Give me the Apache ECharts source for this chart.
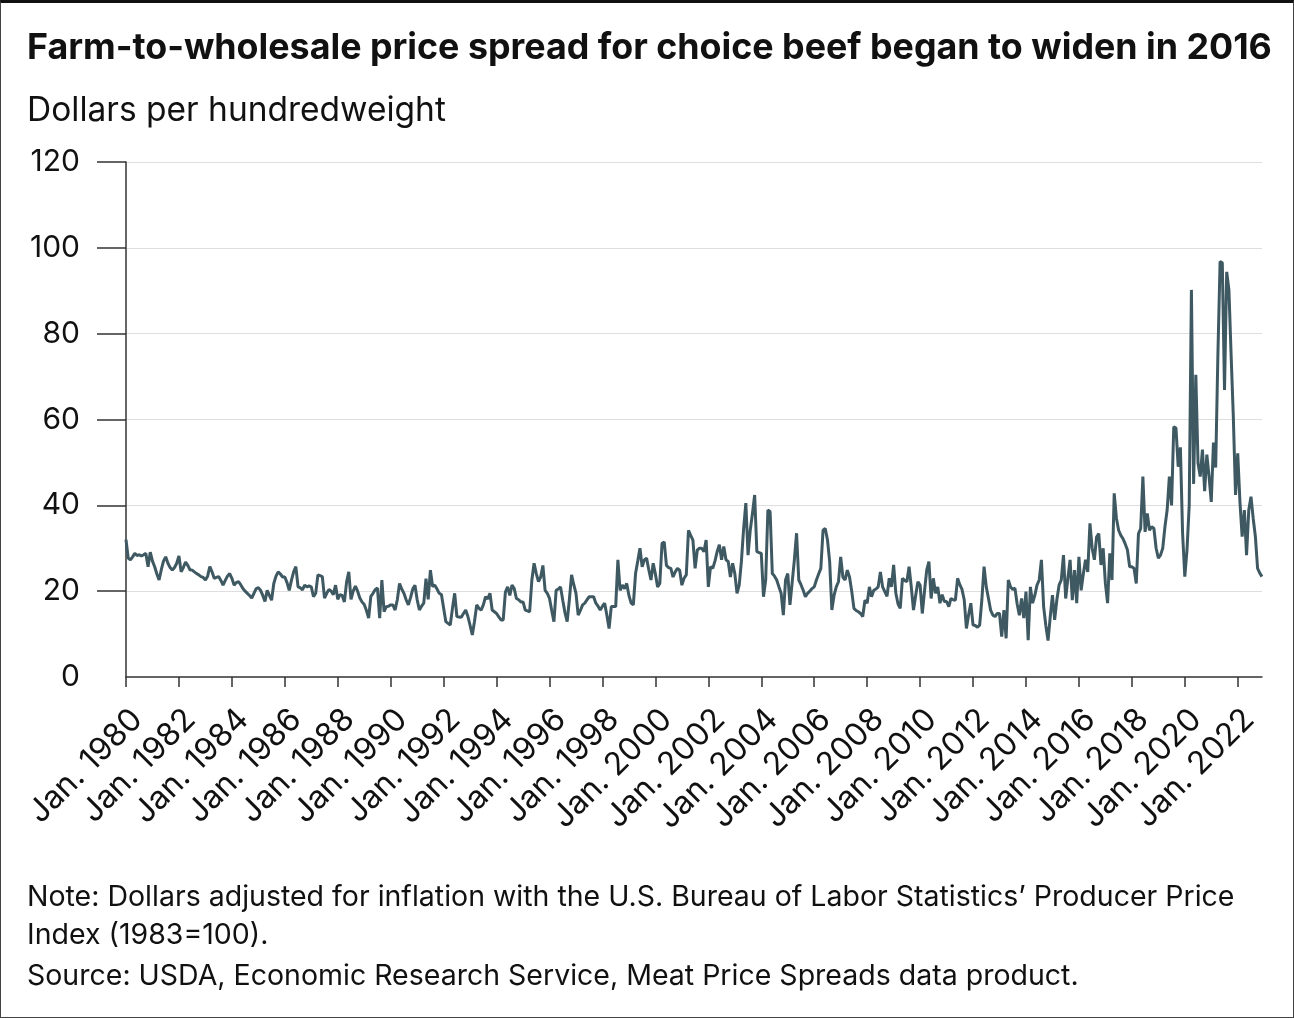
<!DOCTYPE html>
<html>
<head>
<meta charset="utf-8">
<script src="https://cdn.jsdelivr.net/npm/echarts@6/dist/echarts.min.js"></script>
<style>
  html, body { margin: 0; padding: 0; background: #fff; }
  #main { position: absolute; left: 0; top: 0; width: 1294px; height: 1018px; }
  #frame { position: absolute; left: 0; top: 0; width: 1294px; height: 1018px; box-sizing: border-box;
           border: 1px solid #444; border-top: 3px solid #111; pointer-events: none; }
</style>
</head>
<body>
<div id="main"></div>
<div id="frame"></div>
<script>
// monthly farm-to-wholesale spread, dollars per cwt
const spread1980s = [
  32, 27.7, 27.3, 28, 28.8, 28.3, 28.5, 28.2, 28.5, 28.8, 25.7, 29.1,
  27, 25.7, 24, 22.6, 25, 27, 28, 26.5, 25.5, 24.9, 25.5, 26.5,
  28.2, 24.5, 25.5, 26.8, 26, 25, 24.9, 24.5, 24.1, 23.8, 23.4, 23.2,
  22.6, 23.5, 25.7, 24.5, 23, 23.2, 23.4, 22.5, 21.4, 22.5, 23.5, 24.1,
  23, 21.4, 22, 22.2, 21.5, 20.6, 20, 19.5, 19, 18.4, 19.5, 20.6,
  20.8, 20.2, 19, 17.6, 20.2, 19, 17.9, 21.8, 23.5, 24.5, 24, 23.3,
  23.3, 22, 20.2, 22.5, 24.5, 25.7, 21, 20.8, 20.3, 21.4, 21, 21.2,
  21, 18.7, 19.5, 23.8, 23.6, 23.4, 18.4, 19.5, 20.4, 20, 19.2, 21.4,
  18.1, 19.2, 19, 17.5, 22.1, 24.5, 18.1, 20, 21.2, 20, 18.4, 17.5,
  16.9, 15.5, 13.7, 18.8, 19.5, 20.4, 20.7, 13.7, 22.6, 15.2, 16.4, 16.5
];
const spread1990s = [
  16.8, 16.8, 15.6, 18, 21.8, 20.5, 19.5, 18, 16.8, 18.5, 20.5, 21.4,
  18, 15.6, 16.5, 17.2, 22.9, 18.1, 24.9, 21.1, 21.4, 20.5, 19.5, 19.2,
  16, 12.9, 12.5, 12.1, 16, 19.5, 14.1, 14, 13.9, 14.8, 15.6, 14.1,
  12, 9.8, 13, 16.8, 16, 15.6, 16.8, 18.7, 18.2, 19.5, 15.6, 15.2,
  14.8, 14, 13.3, 13.3, 19.8, 21, 19, 21.4, 20.6, 18.3, 18, 17.5,
  17.5, 15.6, 15.4, 15.2, 22.6, 26.5, 24.1, 22.2, 23.3, 26, 20.2, 19.5,
  18.3, 15.5, 12.9, 20.2, 20.5, 21, 17.9, 15, 12.9, 18, 23.8, 21.5,
  19.5, 14.4, 15.5, 16.8, 17.2, 18, 18.7, 18.7, 18.7, 17.2, 16.5, 15.6,
  16.5, 17.2, 14.4, 11.3, 16.4, 16.4, 16.4, 27.3, 20.2, 21.4, 20.6, 21.8,
  19, 17.2, 16.8, 24.1, 27, 30, 25.7, 27.3, 27.7, 25, 22.6, 26.5
];
const spread2000s = [
  24, 21, 21.8, 31.1, 31.5, 26, 25.5, 25.3, 23.3, 24.5, 25.3, 24.9,
  21.4, 23, 23.8, 34.2, 33, 31.9, 25.3, 29.6, 30, 30, 29.2, 31.9,
  21, 25.7, 25.3, 27, 29.2, 30.8, 27.3, 30.4, 27.3, 26.9, 23.3, 26.5,
  24.1, 19.5, 21.4, 27, 34.6, 40.5, 28.4, 34.2, 38.1, 42.4, 29.2, 29,
  28.8, 18.7, 22.6, 38.9, 38.5, 24.1, 23.5, 22.6, 21, 19.5, 14.4, 22.6,
  24.1, 16.8, 22, 27.3, 33.5, 22.6, 21.5, 20.2, 18.7, 19.5, 20, 20.6,
  21, 22.6, 24, 25.3, 34.2, 34.6, 32, 26.9, 15.6, 19, 21, 22.2,
  28, 23.3, 22.6, 24.9, 23.3, 20, 16, 15.5, 15.2, 14.8, 14.1, 17.9,
  17.2, 21, 18.7, 20.2, 20.5, 21, 24.5, 21, 19.9, 18.8, 23, 21,
  26.1, 19.5, 17, 16, 23, 22.5, 22.2, 25.7, 21, 15.6, 19, 22.2
];
const spread2010s = [
  21.4, 14.8, 20, 24.9, 26.9, 18.3, 23, 19.5, 21, 17.2, 19.2, 17.6,
  17.6, 16.4, 18.3, 18, 17.9, 23, 21.5, 20.4, 18, 11.3, 14.5, 17.2,
  12.1, 12, 11.6, 12.1, 18, 25.7, 21, 18.3, 15.5, 14.4, 14.1, 14.8,
  14.8, 9.4, 15.6, 9, 22.6, 21, 20.4, 20.7, 17, 14.4, 18.3, 13.7,
  19.9, 8.6, 21, 17.2, 19, 21.4, 22.6, 27.3, 16.4, 12, 8.5, 14,
  19.1, 13.3, 18, 21.4, 22.6, 28.4, 18.3, 23, 27.3, 17.9, 24.9, 17.2,
  28, 20.2, 24, 27.3, 24.5, 35.8, 30, 27.3, 32.6, 33.4, 26.1, 30,
  21.8, 17.2, 28.8, 22.6, 42.8, 37, 34.2, 33, 32.2, 31, 29.6, 25.7,
  25.7, 25.3, 21.8, 33.4, 34.6, 46.7, 33.8, 38.1, 34.2, 35, 34.6, 30,
  27.7, 28.4, 30, 35, 38.9, 46.7, 40, 58.3, 58, 49, 53.5, 33.5
];
const spread2020s = [
  23.4, 29.6, 40, 90.2, 45, 70.4, 49.8, 46.7, 53, 43.3, 51.8, 46.7,
  40.8, 54.6, 48.8, 75, 96.8, 96.5, 66.9, 94.4, 90.2, 75, 60.6, 42.4,
  52.1, 40.8, 32.7, 38.9, 28.4, 38.9, 42, 37, 32.7, 25.3, 24.2, 23.4
];
const firstYear = 1980;
const yTicks = [0, 20, 40, 60, 80, 100, 120];

const values = [].concat(spread1980s, spread1990s, spread2000s, spread2010s, spread2020s);
const months = values.map((v, i) => {
  const y = firstYear + Math.floor(i / 12);
  const m = (i % 12) + 1;
  return y + '-' + (m < 10 ? '0' + m : m);
});

const font = 'Inter, "Noto Sans", sans-serif';
const ink = '#111';

const chart = echarts.init(document.getElementById('main'));
const option = {
  animation: false,
  textStyle: { fontFamily: font },
  title: [
    {
      text: 'Farm-to-wholesale price spread for choice beef began to widen in 2016',
      left: 27, top: 30, padding: 0,
      textStyle: { fontFamily: font, fontSize: 35.8, fontWeight: 'bold', color: ink }
    },
    {
      text: 'Dollars per hundredweight',
      left: 27, top: 94, padding: 0,
      textStyle: { fontFamily: font, fontSize: 33.5, fontWeight: 'normal', color: ink }
    },
    {
      text: 'Note: Dollars adjusted for inflation with the U.S. Bureau of Labor Statistics\u2019 Producer Price\nIndex (1983=100).',
      left: 27, top: 878, padding: 0,
      textStyle: { fontFamily: font, fontSize: 28.5, fontWeight: 'normal', color: ink, lineHeight: 38 }
    },
    {
      text: 'Source: USDA, Economic Research Service, Meat Price Spreads data product.',
      left: 27, top: 962, padding: 0,
      textStyle: { fontFamily: font, fontSize: 28.5, fontWeight: 'normal', color: ink }
    }
  ],
  grid: { left: 126, top: 162, width: 1136, height: 515, containLabel: false },
  xAxis: {
    type: 'category',
    boundaryGap: false,
    data: months,
    axisLine: { lineStyle: { color: '#333', width: 1.5 } },
    axisTick: { show: true, interval: 23, length: 10, lineStyle: { color: '#333', width: 1.5 } },
    axisLabel: {
      interval: 23,
      rotate: 45,
      margin: 26,
      verticalAlign: 'top',
      fontSize: 32,
      color: ink,
      formatter: function (v) { return 'Jan. ' + v.slice(0, 4); }
    },
    splitLine: { show: false }
  },
  yAxis: {
    type: 'value',
    min: yTicks[0],
    max: yTicks[yTicks.length - 1],
    interval: 20,
    axisLine: { show: true, lineStyle: { color: '#333', width: 1.5 } },
    axisTick: {
      show: true, length: 29,
      customValues: yTicks.slice(1),
      lineStyle: { color: '#333', width: 1.5 }
    },
    axisLabel: { fontSize: 30, color: ink, margin: 46 },
    splitLine: { lineStyle: { color: '#dedede', width: 1 } }
  },
  series: [
    {
      type: 'line',
      data: values,
      symbol: 'none',
      lineStyle: { color: '#3f5963', width: 3 },
      itemStyle: { color: '#3f5963' }
    }
  ]
};
chart.setOption(option);
window.onresize = function () { chart.resize(); };
</script>
</body>
</html>
